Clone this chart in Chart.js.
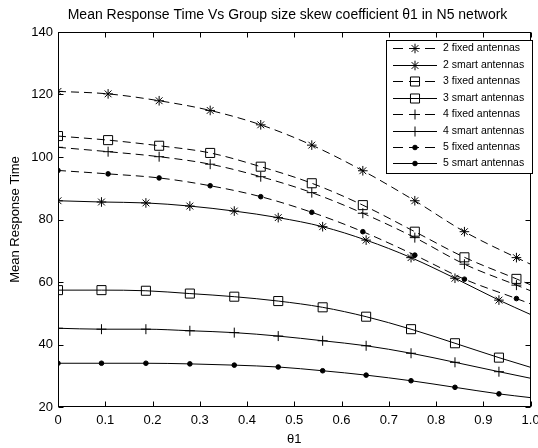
<!DOCTYPE html>
<html>
<head>
<meta charset="utf-8">
<script src="https://cdn.jsdelivr.net/npm/chart.js"></script>
<style>
html, body { margin: 0; padding: 0; background: #fff; }
#wrap { width: 538px; height: 448px; }
</style>
</head>
<body>
<div id="wrap"><canvas id="chart" width="538" height="448"></canvas></div>
<script>
// x positions of the samples (last one is the line end at θ1 = 1, no marker)
const xFixed = [0, 0.106, 0.214, 0.322, 0.429, 0.537, 0.645, 0.755, 0.860, 0.970, 1];
const xSmart = [0, 0.092, 0.186, 0.279, 0.373, 0.466, 0.560, 0.652, 0.747, 0.840, 0.933, 1];

const fixed2 = [121.0, 120.2, 118.0, 114.9, 110.3, 103.8, 95.6, 86.0, 76.1, 67.8, 65.7];
const smart2 = [86.0, 85.6, 85.3, 84.3, 82.7, 80.6, 77.7, 73.4, 67.8, 61.2, 54.2, 49.6];
const fixed3 = [106.7, 105.4, 103.6, 101.3, 96.9, 91.6, 84.6, 76.1, 67.9, 61.0, 59.1];
const smart3 = [57.4, 57.4, 57.2, 56.3, 55.3, 53.9, 51.9, 48.9, 44.9, 40.4, 35.8, 32.7];
const fixed4 = [103.1, 101.7, 100.1, 97.7, 93.7, 88.6, 82.0, 74.2, 65.7, 59.0, 57.2];
const smart4 = [45.2, 44.9, 44.9, 44.4, 43.8, 42.7, 41.2, 39.6, 37.2, 34.3, 31.3, 29.2];
const fixed5 = [95.7, 94.6, 93.3, 90.8, 87.3, 82.3, 76.1, 68.6, 60.9, 54.7, 53.0];
const smart5 = [34.0, 34.0, 34.0, 33.8, 33.4, 32.8, 31.6, 30.2, 28.4, 26.3, 24.2, 23.0];

const labels = [
  "2 fixed antennas", "2 smart antennas",
  "3 fixed antennas", "3 smart antennas",
  "4 fixed antennas", "4 smart antennas",
  "5 fixed antennas", "5 smart antennas"
];
const titleText = 'Mean Response Time Vs Group size skew coefficient θ1 in N5 network';

const FONT = "'Liberation Sans', Arial, sans-serif";
Chart.defaults.font.family = FONT;
Chart.defaults.color = '#000';

const markerSize = { star: 4.8, rect: 6.4, cross: 5, circle: 2.3 };

function makeSet(label, xs, ys, dashed, style) {
  const last = xs.length - 1;
  return {
    label: label,
    data: xs.map((x, i) => ({ x: x, y: ys[i] })),
    showLine: true,
    borderColor: '#000',
    borderWidth: 1,
    borderDash: dashed ? [8, 5] : [],
    cubicInterpolationMode: 'monotone',
    pointStyle: style,
    pointRadius: ctx => ctx.dataIndex === last ? 0 : markerSize[style],
    pointBorderColor: '#000',
    pointBackgroundColor: style === 'circle' ? '#000' : 'rgba(0,0,0,0)',
    pointBorderWidth: 1,
    pointHoverRadius: 0
  };
}

const datasets = [
  makeSet(labels[0], xFixed, fixed2, true, 'star'),
  makeSet(labels[1], xSmart, smart2, false, 'star'),
  makeSet(labels[2], xFixed, fixed3, true, 'rect'),
  makeSet(labels[3], xSmart, smart3, false, 'rect'),
  makeSet(labels[4], xFixed, fixed4, true, 'cross'),
  makeSet(labels[5], xSmart, smart4, false, 'cross'),
  makeSet(labels[6], xFixed, fixed5, true, 'circle'),
  makeSet(labels[7], xSmart, smart5, false, 'circle')
];

// title, drawn where matlab puts it (centred a bit right of the canvas middle)
const topTitle = {
  id: 'topTitle',
  afterDraw(chart) {
    const ctx = chart.ctx;
    ctx.save();
    ctx.fillStyle = '#000';
    ctx.font = '14px ' + FONT;
    ctx.textAlign = 'center';
    ctx.textBaseline = 'alphabetic';
    ctx.fillText(titleText, 287.5, 19);
    ctx.restore();
  }
};

// box round the plot with inward ticks on all four sides
const frame = {
  id: 'frame',
  afterDatasetsDraw(chart) {
    const { ctx, chartArea: a, scales: { x, y } } = chart;
    const L = Math.round(a.left) + 0.5, R = Math.round(a.right) - 0.5;
    const T = Math.round(a.top) + 0.5, B = Math.round(a.bottom) - 0.5;
    ctx.save();
    ctx.strokeStyle = '#000';
    ctx.lineWidth = 1;
    ctx.strokeRect(L, T, R - L, B - T);
    ctx.beginPath();
    x.ticks.forEach(t => {
      const px = Math.round(x.getPixelForValue(t.value)) + 0.5;
      ctx.moveTo(px, B); ctx.lineTo(px, B - 5);
      ctx.moveTo(px, T); ctx.lineTo(px, T + 5);
    });
    y.ticks.forEach(t => {
      const py = Math.round(y.getPixelForValue(t.value)) + 0.5;
      ctx.moveTo(L, py); ctx.lineTo(L + 5, py);
      ctx.moveTo(R, py); ctx.lineTo(R - 5, py);
    });
    ctx.stroke();
    ctx.restore();
  }
};

// matlab style legend box: line sample with marker, then text
const boxLegend = {
  id: 'boxLegend',
  afterDraw(chart) {
    const ctx = chart.ctx;
    const bx = 386.5, by = 40.5, bw = 146, bh = 133;
    ctx.save();
    ctx.fillStyle = '#fff';
    ctx.fillRect(bx, by, bw, bh);
    ctx.strokeStyle = '#000';
    ctx.lineWidth = 1;
    ctx.strokeRect(bx, by, bw, bh);
    chart.data.datasets.forEach((ds, i) => {
      const yy = Math.round(48.3 + i * 16.45) + 0.5;
      ctx.setLineDash(ds.borderDash.length ? [10, 6] : []);
      ctx.beginPath();
      ctx.moveTo(393, yy);
      ctx.lineTo(437, yy);
      ctx.stroke();
      ctx.setLineDash([]);
      ctx.fillStyle = ds.pointBackgroundColor;
      Chart.helpers.drawPoint(ctx, { pointStyle: ds.pointStyle, radius: markerSize[ds.pointStyle], borderWidth: 1, rotation: 0 }, 415, yy);
      ctx.fillStyle = '#000';
      ctx.font = '10.5px ' + FONT;
      ctx.textBaseline = 'middle';
      ctx.textAlign = 'left';
      ctx.fillText(ds.label, 443, yy);
    });
    ctx.restore();
  }
};

new Chart(document.getElementById('chart'), {
  type: 'scatter',
  data: { datasets: datasets },
  options: {
    responsive: false,
    animation: false,
    events: [],
    layout: { padding: { left: 0, right: 1.3, top: 32, bottom: 0 } },
    plugins: {
      legend: { display: false },
      tooltip: { enabled: false },
      title: { display: false }
    },
    scales: {
      x: {
        type: 'linear',
        min: 0, max: 1,
        ticks: { stepSize: 0.1, color: '#000', font: { size: 13 }, padding: 6 },
        grid: { display: false, drawTicks: false },
        border: { display: false },
        title: { display: true, text: 'θ1', color: '#000', font: { size: 13 }, padding: { top: 0, bottom: 1 } },
        afterFit(s) { s.height = 41; s.paddingLeft = 0; s.paddingRight = 0; }
      },
      y: {
        min: 20, max: 140,
        ticks: { stepSize: 20, color: '#000', font: { size: 13 }, padding: 5 },
        grid: { display: false, drawTicks: false },
        border: { display: false },
        title: { display: true, text: 'Mean Response Time', color: '#000', font: { size: 13 }, padding: { top: 8, bottom: 0 } },
        afterFit(s) { s.width = 58; s.paddingTop = 0; s.paddingBottom = 0; }
      }
    }
  },
  plugins: [frame, boxLegend, topTitle]
});
</script>
</body>
</html>
